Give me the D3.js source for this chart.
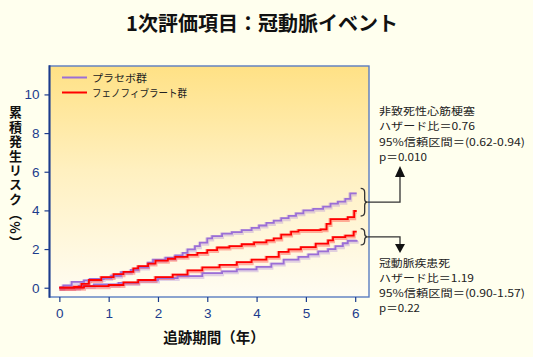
<!DOCTYPE html>
<html><head><meta charset="utf-8">
<script src="https://cdn.jsdelivr.net/npm/d3@7"></script>
<style>
html,body{margin:0;padding:0;background:#ffffee;}
svg{display:block;}
</style></head>
<body>
<script>
// ---- data ----
const xTicks = [0,1,2,3,4,5,6];
const yTicks = [0,2,4,6,8,10];
const seriesNames = ["プラセボ群","フェノフィブラート群"];
// step points [years, cumulative %]
const placeboMI = [[0,0],[0.08,0.12],[0.25,0.3],[0.5,0.38],[0.62,0.45],[0.9,0.5],[1.05,0.62],[1.25,0.8],[1.45,0.92],[1.6,1.05],[1.8,1.3],[1.9,1.45],[2.15,1.55],[2.35,1.67],[2.5,1.8],[2.6,1.98],[2.75,2.15],[2.85,2.33],[3.0,2.55],[3.1,2.67],[3.3,2.8],[3.5,2.88],[3.7,2.98],[3.9,3.1],[4.05,3.22],[4.2,3.35],[4.35,3.47],[4.5,3.6],[4.65,3.72],[4.8,3.85],[4.95,4.0],[5.15,4.08],[5.35,4.2],[5.5,4.35],[5.65,4.45],[5.8,4.6],[5.9,4.88],[6.03,4.88]];
const fenoMI = [[0,0],[0.3,0.05],[0.45,0.2],[0.6,0.4],[0.85,0.55],[1.1,0.7],[1.3,0.82],[1.5,1.0],[1.6,1.12],[1.8,1.25],[1.95,1.4],[2.2,1.5],[2.35,1.6],[2.6,1.7],[2.8,1.8],[3.0,1.95],[3.2,2.08],[3.45,2.15],[3.7,2.25],[3.95,2.35],[4.2,2.45],[4.35,2.55],[4.5,2.75],[4.7,2.9],[4.85,2.98],[5.3,3.02],[5.42,3.3],[5.5,3.55],[5.85,3.65],[5.98,3.97],[6.03,3.97]];
const fenoCHD = [[0,0],[0.5,0.08],[1.0,0.14],[1.3,0.28],[1.6,0.4],[1.95,0.55],[2.3,0.68],[2.6,0.9],[2.9,1.05],[3.25,1.18],[3.6,1.32],[3.9,1.45],[4.2,1.6],[4.45,1.85],[4.65,1.98],[4.9,2.1],[5.2,2.28],[5.45,2.45],[5.55,2.62],[5.8,2.7],[5.97,2.9],[6.03,2.9]];
const placeboCHD = [[0,0],[0.4,0.1],[0.7,0.17],[1.2,0.25],[1.6,0.38],[2.0,0.5],[2.4,0.6],[2.9,0.75],[3.3,0.85],[3.6,0.95],[4.0,1.08],[4.3,1.25],[4.55,1.45],[4.85,1.6],[5.05,1.72],[5.25,1.88],[5.45,2.0],[5.6,2.15],[5.75,2.3],[5.85,2.43],[6.03,2.47]];
const noteMI = ["非致死性心筋梗塞","ハザード比＝0.76","95%信頼区間＝(0.62-0.94)","p＝0.010"];
const noteCHD = ["冠動脈疾患死","ハザード比＝1.19","95%信頼区間＝(0.90-1.57)","p＝0.22"];

const colPlacebo = "#9b6fd6", colFeno = "#ff0000";
const W=533,H=357;
const svg = d3.select("body").append("svg").attr("width",W).attr("height",H);
svg.append("rect").attr("width",W).attr("height",H).attr("fill","#ffffee");

const L=49.5,R=369,T=66,B=297;
const x = d3.scaleLinear().domain([-0.2,6.28]).range([L,R]);
const y = d3.scaleLinear().domain([-0.48,11.47]).range([B,T]);

const defs = svg.append("defs");
const g = defs.append("linearGradient").attr("id","bg").attr("x1",0).attr("y1",0).attr("x2",0).attr("y2",1);
g.append("stop").attr("offset","0%").attr("stop-color","#ffe185");
g.append("stop").attr("offset","45%").attr("stop-color","#fff0c0");
g.append("stop").attr("offset","100%").attr("stop-color","#fffdf3");
svg.append("rect").attr("x",L).attr("y",T).attr("width",R-L).attr("height",B-T).attr("fill","url(#bg)");

const font = "'Noto Sans CJK JP','Noto Sans',sans-serif";

// title
svg.append("text").attr("x",262).attr("y",31).attr("text-anchor","middle")
  .attr("font-family",font).attr("font-weight","bold").attr("font-size",20).attr("fill","#111")
  .text("1次評価項目：冠動脈イベント");

// curves
const line = d3.line().x(d=>x(d[0])).y(d=>y(d[1])).curve(d3.curveStepAfter);
const curves = [[placeboCHD,colPlacebo],[placeboMI,colPlacebo],[fenoCHD,colFeno],[fenoMI,colFeno]];
curves.forEach(([d,c])=>{
  svg.append("path").attr("d",line(d)).attr("fill","none").attr("stroke",c)
    .attr("stroke-width",4).attr("stroke-opacity",0.3).attr("transform","translate(0,1)");
});
curves.forEach(([d,c])=>{
  svg.append("path").attr("d",line(d)).attr("fill","none").attr("stroke",c).attr("stroke-width",1.8);
});

// frame
svg.append("rect").attr("x",L).attr("y",T).attr("width",R-L).attr("height",B-T)
  .attr("fill","none").attr("stroke","#5a7cc0").attr("stroke-width",1.4);
svg.append("line").attr("x1",L).attr("x2",L).attr("y1",T-0.7).attr("y2",B+0.7).attr("stroke","#1c3c8c").attr("stroke-width",2);

// axes
const axY = svg.append("g").attr("transform",`translate(${L},0)`)
  .call(d3.axisLeft(y).tickValues(yTicks).tickSize(5).tickPadding(5).tickFormat(d3.format("d")));
const axX = svg.append("g").attr("transform",`translate(0,${B})`)
  .call(d3.axisBottom(x).tickValues(xTicks).tickSize(5).tickPadding(6).tickFormat(d3.format("d")));
[axY,axX].forEach(a=>{
  a.select(".domain").remove();
  a.selectAll("line").attr("stroke","#1c3c8c").attr("stroke-width",1.2);
  a.selectAll("text").attr("fill","#1c3c8c").attr("font-family","'Liberation Sans',Arial,sans-serif").attr("font-size",13.5);
});

// y axis title (vertical)
svg.append("text").attr("x",15.5).attr("y",106)
  .style("writing-mode","vertical-rl")
  .attr("font-family",font).attr("font-weight","bold").attr("font-size",13).attr("fill","#111")
  .attr("letter-spacing",1.4)
  .text("累積発生リスク（%）");

svg.append("text").attr("x",214).attr("y",343).attr("text-anchor","middle")
  .attr("font-family",font).attr("font-weight","bold").attr("font-size",14.5).attr("fill","#111")
  .text("追跡期間（年）");

// legend
const leg = [[seriesNames[0],colPlacebo,77.5,55],[seriesNames[1],colFeno,92.5,95]];
leg.forEach(([t,c,yy,w])=>{
  svg.append("line").attr("x1",62).attr("x2",87).attr("y1",yy).attr("y2",yy).attr("stroke",c).attr("stroke-width",2);
  svg.append("text").attr("x",92).attr("y",yy+4).attr("font-family",font).attr("font-size",10.5).attr("fill","#222")
    .attr("textLength",w).attr("lengthAdjust","spacingAndGlyphs").text(t);
});

// brackets & arrows
function brace(xb, y1, y2){
  const ym=(y1+y2)/2;
  return `M${xb},${y1} Q${xb+4},${y1} ${xb+4},${y1+4} L${xb+4},${ym-3} Q${xb+4},${ym} ${xb+7},${ym} Q${xb+4},${ym} ${xb+4},${ym+3} L${xb+4},${y2-4} Q${xb+4},${y2} ${xb},${y2}`;
}
const xb = x(6.03)+4;
const endV = s => s[s.length-1][1];
const mTop = y(Math.max(endV(placeboMI),endV(fenoMI)))-5;
const mBot = y(Math.min(endV(placeboMI),endV(fenoMI)))+5;
const cTop = y(Math.max(endV(placeboCHD),endV(fenoCHD)))-3;
const cBot = y(Math.min(endV(placeboCHD),endV(fenoCHD)))+5;
const ink="#333";
svg.append("path").attr("d",brace(xb,mTop,mBot)).attr("fill","none").attr("stroke",ink).attr("stroke-width",1.3);
svg.append("path").attr("d",brace(xb,cTop,cBot)).attr("fill","none").attr("stroke",ink).attr("stroke-width",1.3);
const ax=400;
const ym1=(mTop+mBot)/2, ym2=(cTop+cBot)/2;
svg.append("path").attr("d",`M${xb+7},${ym1} H${ax} V176`).attr("fill","none").attr("stroke",ink).attr("stroke-width",1.3);
svg.append("path").attr("d",`M${ax-5},177 L${ax+5},177 L${ax},166 Z`).attr("fill","#111");
svg.append("path").attr("d",`M${xb+7},${ym2} H${ax} V245`).attr("fill","none").attr("stroke",ink).attr("stroke-width",1.3);
svg.append("path").attr("d",`M${ax-5},244 L${ax+5},244 L${ax},253 Z`).attr("fill","#111");

// notes
const widths1=[96,96,146,48], widths2=[71,95,146,41];
function note(lines, y0, widths){
  lines.forEach((t,i)=>{
    svg.append("text").attr("x",379).attr("y",y0+i*15.3).attr("font-family",font).attr("font-size",10.5).attr("fill","#222")
      .attr("textLength",widths[i]).attr("lengthAdjust","spacingAndGlyphs").text(t);
  });
}
note(noteMI,115,widths1);
note(noteCHD,266.5,widths2);
</script>
</body></html>
